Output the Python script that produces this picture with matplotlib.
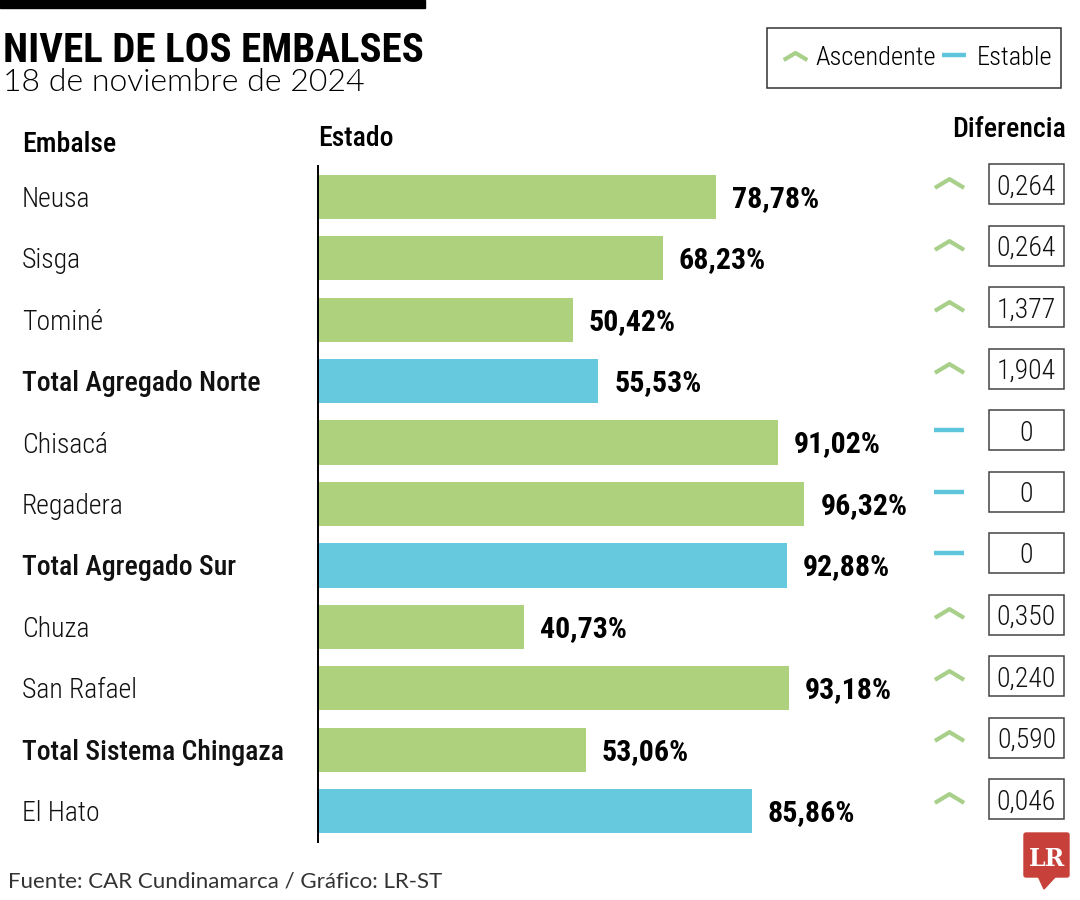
import matplotlib
matplotlib.use('Agg')
import matplotlib.pyplot as plt
from matplotlib.patches import Rectangle, FancyBboxPatch, Polygon
from matplotlib.path import Path

embalses = ['Neusa', 'Sisga', 'Tominé', 'Total Agregado Norte', 'Chisacá', 'Regadera',
            'Total Agregado Sur', 'Chuza', 'San Rafael', 'Total Sistema Chingaza', 'El Hato']
nivel = [78.78, 68.23, 50.42, 55.53, 91.02, 96.32, 92.88, 40.73, 93.18, 53.06, 85.86]
diferencia = ['0,264', '0,264', '1,377', '1,904', '0', '0', '0', '0,350', '0,240', '0,590', '0,046']
tendencia = ['up', 'up', 'up', 'up', 'flat', 'flat', 'flat', 'up', 'up', 'up', 'up']
totales = ['Total Agregado Norte', 'Total Agregado Sur', 'Total Sistema Chingaza']
azules = ['Total Agregado Norte', 'Total Agregado Sur', 'El Hato']

GREEN = '#aed17e'
CYAN = '#66c9dd'
CHEV = '#a8d08a'
DASH = '#5ec5dc'
COND = 'Roboto Condensed'

W, H = 1080, 900
fig = plt.figure(figsize=(10.8, 9), dpi=100)

# chevron marker (open ^)
chevron = Path([(-1, -0.3), (0, 0.3), (1, -0.3)], [Path.MOVETO, Path.LINETO, Path.LINETO])

# bars
ax = fig.add_axes([318 / W, 58 / H, 505 / W, 676 / H])
y = list(range(len(embalses)))
colors = [CYAN if e in azules else GREEN for e in embalses]
ax.barh(y, nivel, height=0.72, color=colors, zorder=2)
ax.set_xlim(0, 100)
ax.set_ylim(len(embalses) - 0.5, -0.5)
for s in ['top', 'right', 'bottom']:
    ax.spines[s].set_visible(False)
ax.spines['left'].set_linewidth(1.4)
ax.spines['left'].set_color('black')
ax.set_xticks([])
ax.set_yticks([])

for i, (e, v) in enumerate(zip(embalses, nivel)):
    bold = e in totales
    ax.annotate(e, xy=(22 / W, i), xycoords=('figure fraction', 'data'),
                xytext=(0, -10), textcoords='offset pixels', va='baseline', ha='left',
                family=COND, weight=500 if bold else 300, fontsize=20, color='#111111')
    ax.annotate(f'{v:.2f}%'.replace('.', ','), xy=(v, i), xytext=(16, -10),
                textcoords='offset pixels', va='baseline', ha='left',
                family=COND, weight='bold', fontsize=21.5, color='black', annotation_clip=False)

# diferencia column
ax2 = fig.add_axes([920 / W, 58 / H, 155 / W, 676 / H], sharey=ax)
ax2.set_xlim(0, 1)
ax2.axis('off')
for i, (d, t) in enumerate(zip(diferencia, tendencia)):
    if t == 'up':
        ax2.plot([0.184], [i - 0.22], marker=chevron, markersize=21, mew=3, mec=CHEV,
                 mfc='none', linestyle='none', clip_on=False)
    else:
        ax2.plot([0.184], [i - 0.2], marker='_', markersize=22, mew=3.2, mec=DASH,
                 linestyle='none', clip_on=False)
    ax2.add_patch(Rectangle((0.445, i - 0.2 - 0.325), 0.484, 0.65, fill=False,
                            edgecolor='#444444', lw=1.1, clip_on=False))
    ax2.annotate(d, xy=(0.687, i), xytext=(0, 2), textcoords='offset pixels',
                 ha='center', va='baseline', family=COND, weight=300, fontsize=20,
                 color='#111111', annotation_clip=False)

# headers
fig.text(22 / W, 1 - 152 / H, 'Embalse', family=COND, weight=500, fontsize=20, va='baseline')
fig.text(318 / W, 1 - 146 / H, 'Estado', family=COND, weight=500, fontsize=20, va='baseline')
fig.text(1066 / W, 1 - 137 / H, 'Diferencia', family=COND, weight=500, fontsize=20,
         va='baseline', ha='right')

# title block
fig.patches.append(Rectangle((0, 1 - 8 / H), 425 / W, 8 / H, transform=fig.transFigure,
                             color='black', figure=fig))
fig.text(3 / W, 1 - 62 / H, 'NIVEL DE LOS EMBALSES', family=COND, weight='bold',
         fontsize=29.5, va='baseline')
fig.text(3 / W, 1 - 91 / H, '18 de noviembre de 2024', family='Lato', weight=300,
         fontsize=23, va='baseline')

# legend
fig.patches.append(Rectangle((767 / W, 1 - 88 / H), 294 / W, 60 / H, transform=fig.transFigure,
                             fill=False, edgecolor='#333333', lw=1.1, figure=fig))
fig.lines.append(plt.Line2D([795 / W], [1 - 56 / H], marker=chevron, markersize=17, mew=3,
                            mec=CHEV, mfc='none', transform=fig.transFigure, figure=fig))
fig.lines.append(plt.Line2D([953.5 / W], [1 - 55 / H], marker='_', markersize=17, mew=3.2,
                            mec=DASH, transform=fig.transFigure, figure=fig))
fig.text(815 / W, 1 - 65 / H, 'Ascendente', family=COND, weight=300, fontsize=19, va='baseline')
fig.text(977 / W, 1 - 65 / H, 'Estable', family=COND, weight=300, fontsize=19, va='baseline')

# footer
fig.text(8 / W, 1 - 888 / H, 'Fuente: CAR Cundinamarca / Gráfico: LR-ST', family='Lato',
         fontsize=16, color='#333333', va='baseline')

# LR logo
RED = '#c8403a'
fig.patches.append(FancyBboxPatch((1024 / W, 1 - 877 / H), 45 / W, 44 / H,
                                  boxstyle='round,pad=0,rounding_size=0.002',
                                  transform=fig.transFigure, color=RED, figure=fig))
fig.patches.append(Polygon([(1038 / W, 1 - 876 / H), (1056 / W, 1 - 876 / H),
                            (1044 / W, 1 - 889 / H)], closed=True,
                           transform=fig.transFigure, color=RED, figure=fig))
fig.text(1046.5 / W, 1 - 866 / H, 'LR', family='DejaVu Serif', weight='bold', fontsize=17,
         color='white', ha='center', va='baseline')

fig.savefig('out.png', dpi=100)
